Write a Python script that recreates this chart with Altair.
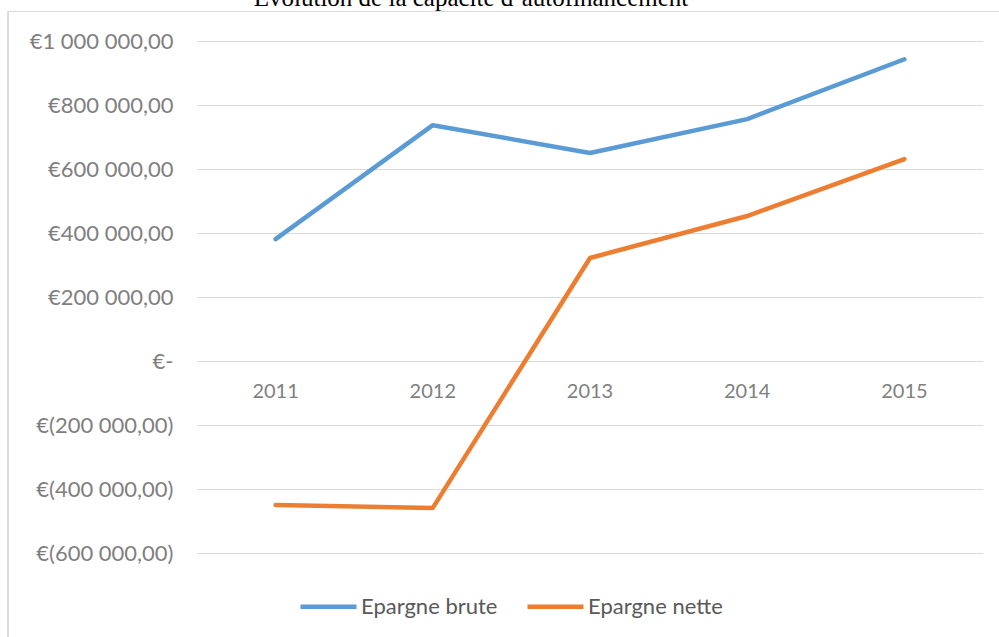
import altair as alt
import pandas as pd

title_text = "Évolution de la capacité d’autofinancement"
years = ["2011", "2012", "2013", "2014", "2015"]
epargne_brute = [381000, 737000, 650000, 756000, 943000]
epargne_nette = [-450000, -459000, 322000, 453000, 631000]
series = ["Epargne brute", "Epargne nette"]
colors = ["#5B9BD5", "#ED7D31"]
y_ticks = [-600000, -400000, -200000, 0, 200000, 400000, 600000, 800000, 1000000]

rows = []
for i, yr in enumerate(years):
    rows.append({"year": yr, "serie": series[0], "value": epargne_brute[i]})
    rows.append({"year": yr, "serie": series[1], "value": epargne_nette[i]})
df = pd.DataFrame(rows)
year_df = pd.DataFrame({"year": years})
title_df = pd.DataFrame({"t": [title_text]})

fmt_pos = "replace(replace(format(datum.value, ',.2f'), regexp(',', 'g'), ' '), '.', ',')"
fmt_neg = "replace(replace(format(-datum.value, ',.2f'), regexp(',', 'g'), ' '), '.', ',')"
label_expr = (
    "datum.value == 0 ? '€-\u00a0\u00a0\u00a0\u00a0' : (datum.value > 0 ? '€' + "
    + fmt_pos + " + '\u00a0' : '€(' + " + fmt_neg + " + ')')"
)

x_enc = alt.X("year:N", sort=years, axis=None, title=None)

lines = alt.Chart(df).mark_line(strokeWidth=4.5, strokeCap="round", strokeJoin="round").encode(
    x=x_enc,
    y=alt.Y(
        "value:Q",
        scale=alt.Scale(domain=[-600000, 1000000], nice=False, zero=False),
        axis=alt.Axis(
            values=y_ticks,
            labelExpr=label_expr,
            labelFont="Lato",
            labelFontSize=22,
            labelColor="#7f7f7f",
            labelPadding=24,
            ticks=False,
            domain=False,
            grid=True,
            gridColor="#d9d9d9",
            gridWidth=1,
            title=None,
        ),
    ),
    color=alt.Color(
        "serie:N",
        scale=alt.Scale(domain=series, range=colors),
        legend=alt.Legend(
            orient="none",
            legendX=101,
            legendY=535,
            direction="horizontal",
            title=None,
            symbolType="stroke",
            symbolSize=3136,
            symbolStrokeWidth=4.5,
            labelFont="Lato",
            labelFontSize=22,
            labelColor="#595959",
            labelOffset=2,
            columnPadding=20,
            padding=0,
        ),
    ),
)

year_labels = alt.Chart(year_df).mark_text(
    font="Lato", fontSize=20, color="#7f7f7f", baseline="middle", dy=31
).encode(
    x=x_enc,
    y=alt.datum(0, type="quantitative"),
    text="year:N",
)

title_mark = alt.Chart(title_df).mark_text(
    font="Liberation Serif", fontSize=25, color="black", baseline="alphabetic", align="center"
).encode(
    x=alt.value(274), y=alt.value(-35), text="t:N"
)

border_left = alt.Chart(year_df).mark_rule(color="#d9d9d9", strokeWidth=1).encode(
    x=alt.value(-189), y=alt.value(-29.5), y2=alt.value(700)
)
border_top = alt.Chart(year_df).mark_rule(color="#d9d9d9", strokeWidth=1).encode(
    x=alt.value(-189), x2=alt.value(900), y=alt.value(-29.5)
)

chart = alt.layer(border_left, border_top, title_mark, lines, year_labels).properties(
    width=786,
    height=512,
    autosize=alt.AutoSizeParams(type="none"),
    padding={"left": 197, "top": 41, "right": 16, "bottom": 84},
).configure_view(stroke=None)

chart.save("out.html", embed_options={"renderer": "svg", "actions": False})
